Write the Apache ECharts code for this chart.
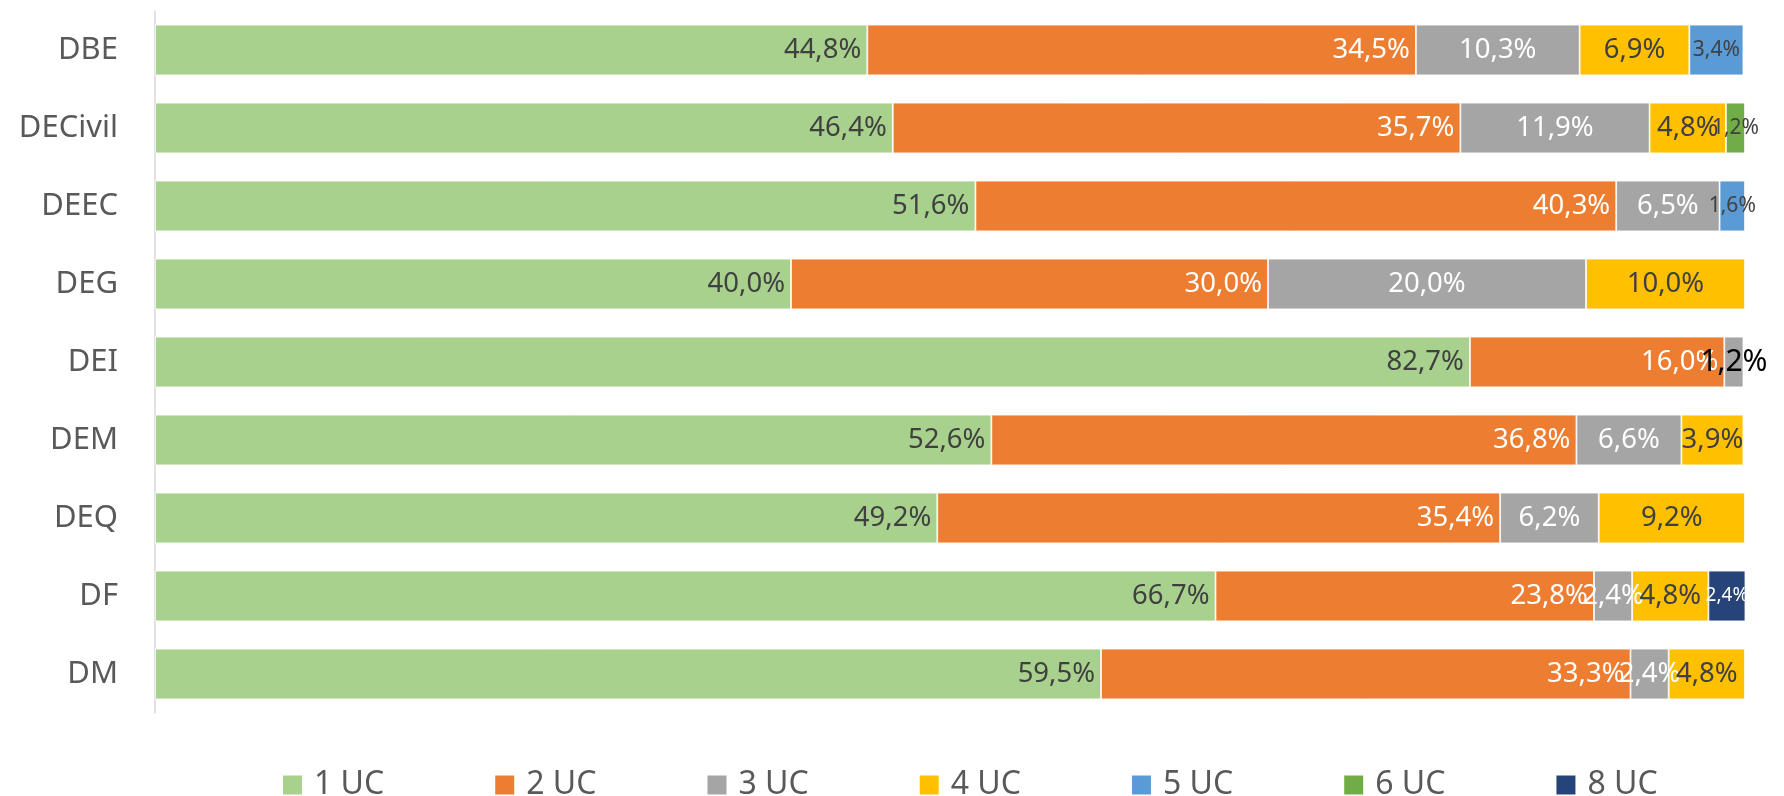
<!DOCTYPE html>
<html>
<head>
<meta charset="utf-8">
<script src="https://cdn.jsdelivr.net/npm/echarts@6/dist/echarts.min.js"></script>
<style>
  html, body { margin: 0; padding: 0; background: #fff; }
  #chart { width: 1784px; height: 796px; }
</style>
</head>
<body>
<div id="chart"></div>
<script>
const departments = ['DBE', 'DECivil', 'DEEC', 'DEG', 'DEI', 'DEM', 'DEQ', 'DF', 'DM']
const seriesNames = ['1 UC', '2 UC', '3 UC', '4 UC', '5 UC', '6 UC', '8 UC']

// percentages per department, one array per series
const uc1 = [44.8, 46.4, 51.6, 40.0, 82.7, 52.6, 49.2, 66.7, 59.5]
const uc2 = [34.5, 35.7, 40.3, 30.0, 16.0, 36.8, 35.4, 23.8, 33.3]
const uc3 = [10.3, 11.9, 6.5, 20.0, 1.2, 6.6, 6.2, 2.4, 2.4]
const uc4 = [6.9, 4.8, null, 10.0, null, 3.9, 9.2, 4.8, 4.8]
const uc5 = [3.4, null, 1.6, null, null, null, null, null, null]
const uc6 = [null, 1.2, null, null, null, null, null, null, null]
const uc8 = [null, null, null, null, null, null, null, 2.4, null]

const seriesValues = [uc1, uc2, uc3, uc4, uc5, uc6, uc8]
const colors = ['#A9D18E', '#ED7D31', '#A5A5A5', '#FFC000', '#5B9BD5', '#70AD47', '#264478']
const labelColors = ['#404040', '#ffffff', '#ffffff', '#404040', '#404040', '#404040', '#ffffff']

// a few labels in the original are smaller / shifted / recoloured
const labelTweaks = {
  '4-0': { fontSize: 21 },
  '5-1': { fontSize: 21, offset: [22, 0] },
  '4-2': { fontSize: 21 },
  '2-4': { color: '#000000', fontSize: 30 },
  '6-7': { fontSize: 19 },
}

const font = '"Noto Sans", "Open Sans", sans-serif'
const fmt = (v) => v.toFixed(1).replace('.', ',') + '%'

const chart = echarts.init(document.getElementById('chart'), null, { renderer: 'canvas' })

const series = seriesNames.map((name, s) => ({
  name,
  type: 'bar',
  stack: 'total',
  barCategoryGap: '35%',
  itemStyle: { color: colors[s], borderColor: '#ffffff', borderWidth: 0.8 },
  label: {
    show: true,
    position: s < 2 ? 'insideRight' : 'inside',
    distance: 6,
    color: labelColors[s],
    fontFamily: font,
    fontSize: 27.5,
    formatter: (p) => (p.value == null ? '' : fmt(p.value)),
  },
  labelLayout: { hideOverlap: false },
  data: seriesValues[s].map((v, i) => {
    const tweak = labelTweaks[s + '-' + i]
    return tweak ? { value: v, label: tweak } : v
  }),
}))

chart.setOption({
  backgroundColor: '#ffffff',
  animation: false,
  grid: { left: 155, right: 39, top: 11, bottom: 83, containLabel: false },
  legend: {
    data: seriesNames,
    left: 276,
    top: 764,
    itemWidth: 21,
    itemHeight: 21,
    itemGap: 109,
    icon: 'rect',
    textStyle: { color: '#595959', fontFamily: font, fontSize: 32, padding: [0, 0, 0, 6] },
  },
  xAxis: {
    type: 'value',
    min: 0,
    max: 100,
    show: false,
  },
  yAxis: {
    type: 'category',
    data: departments,
    inverse: true,
    axisLine: { show: true, lineStyle: { color: '#D9D9D9', width: 1.5 } },
    axisTick: { show: false },
    axisLabel: { color: '#595959', fontFamily: font, fontSize: 31, margin: 37 },
  },
  series,
})
</script>
</body>
</html>
